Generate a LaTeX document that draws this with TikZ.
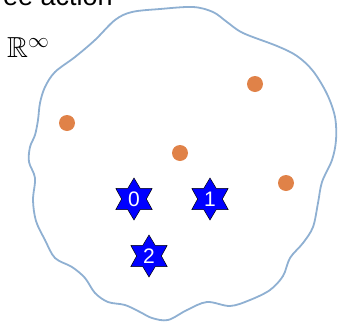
\documentclass[tikz,border=0pt]{standalone}
\usepackage{fontspec}
\usepackage{amssymb}
\setsansfont{Liberation Sans}
\usetikzlibrary{shapes.geometric}
\definecolor{bordo}{RGB}{143,176,210}
\definecolor{arancio}{RGB}{224,130,72}
\tikzset{
  punto/.style={circle,fill=arancio,minimum size=16pt,inner sep=0pt},
  stella/.style={star,star points=6,star point ratio=1.7,minimum size=42pt,inner sep=0pt,
    fill=blue,draw=black,line width=0.5pt,text=white,font=\fontsize{21}{21}\sffamily}
}
\begin{document}
\begin{tikzpicture}[x=1pt,y=-1pt]
        \useasboundingbox (0,0) rectangle (338,322);
        \clip (0,0) rectangle (338,322);
        %titolo tagliato e spazio
        \node[anchor=base east,inner sep=0pt,font=\fontsize{27}{27}\sffamily] (titolo) at (113,5) {free action};
        \node[anchor=base west,inner sep=0pt,font=\fontsize{29}{30}\selectfont] (spazio) at (7,57) {$\mathbb{R}^\infty$};
        %contorno ondulato
        \draw[bordo,line width=1.8pt] plot[smooth cycle,tension=0.55] coordinates {
          (115,20) (132,12) (160,9) (193,7) (213,12) (227,22) (243,33) (277,46) (297,56)
          (313,71) (327,94) (335,117) (336,140) (332,160) (322,182) (318,203) (313,227)
          (303,243) (290,258) (283,276) (270,290) (250,300) (230,306) (207,302) (187,310)
          (168,320) (152,318) (140,312) (125,305) (108,302) (95,293) (85,278) (72,267)
          (55,258) (45,240) (36,221) (33,200) (35,178) (29,162) (30,147) (35,135) (38,120)
          (40,103) (45,87) (55,72) (75,57) (95,40)};
        %punti arancioni
        \node[punto] (d1) at (67,123) {};
        \node[punto] (d2) at (255,84) {};
        \node[punto] (d3) at (180,153) {};
        \node[punto] (d4) at (286,183) {};
        %stelle numerate
        \node[stella] (s0) at (134,199) {0};
        \node[stella] (s1) at (210,199) {1};
        \node[stella] (s2) at (149,256) {2};
\end{tikzpicture}
\end{document}
